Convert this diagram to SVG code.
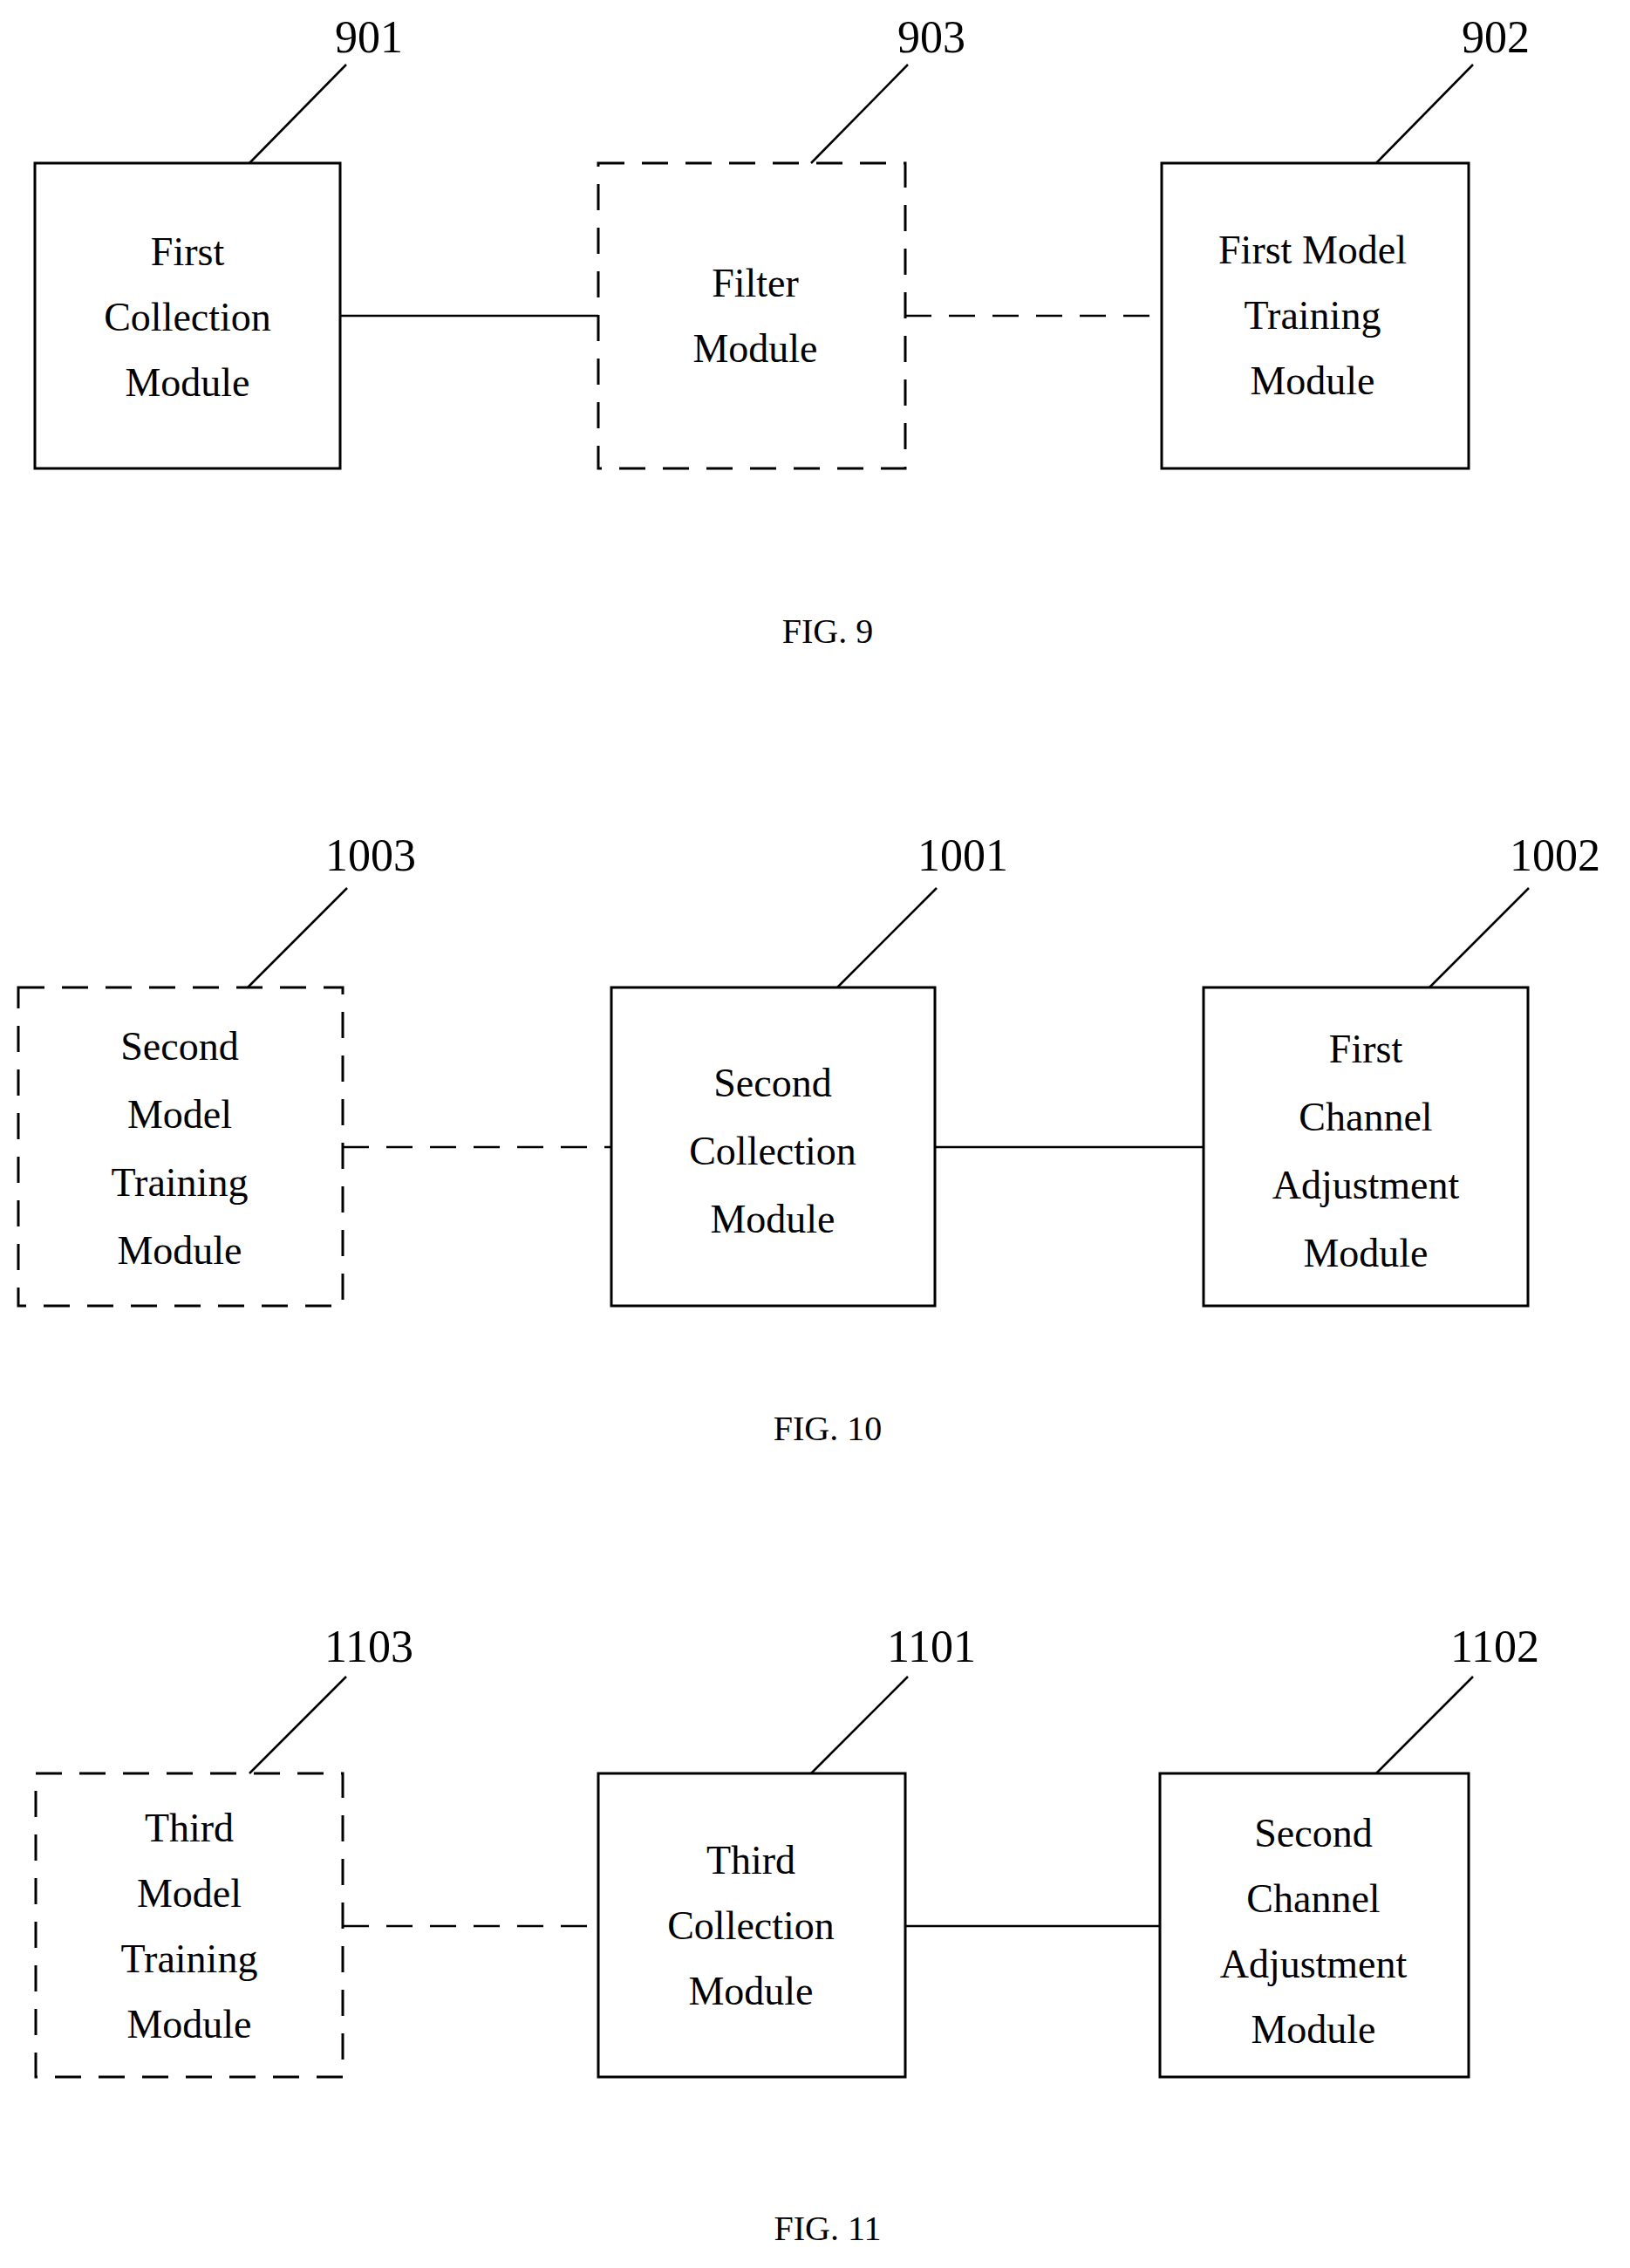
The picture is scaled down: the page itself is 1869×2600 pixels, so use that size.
<svg xmlns="http://www.w3.org/2000/svg" width="1869" height="2600" viewBox="0 0 1869 2600">
<style>
.b{fill:none;stroke:#000;stroke-width:3}
.d{fill:none;stroke:#000;stroke-width:3;stroke-dasharray:30 20}
.l{stroke:#000;stroke-width:2.5;fill:none}
.ld{stroke:#000;stroke-width:2.5;fill:none;stroke-dasharray:30 20}
text{font-family:"Liberation Serif","Times New Roman",serif;text-anchor:middle;fill:#000}
.t{font-size:46px}.n{font-size:52px}.f{font-size:40px}
</style>
<rect width="1869" height="2600" fill="#fff"/>
<g id="n901"><rect class="b" x="40" y="187" width="350" height="350"/><text class="t" x="215" y="304">First</text><text class="t" x="215" y="379">Collection</text><text class="t" x="215" y="454">Module</text><text class="n" x="423" y="60">901</text><line class="l" x1="286" y1="187" x2="397" y2="74"/></g>
<g id="n903"><rect class="d" x="686" y="187" width="352" height="350"/><text class="t" x="866" y="340">Filter</text><text class="t" x="866" y="415">Module</text><text class="n" x="1068" y="60">903</text><line class="l" x1="930" y1="187" x2="1041" y2="74"/></g>
<g id="n902"><rect class="b" x="1332" y="187" width="352" height="350"/><text class="t" x="1505" y="302">First Model</text><text class="t" x="1505" y="377">Training</text><text class="t" x="1505" y="452">Module</text><text class="n" x="1715" y="60">902</text><line class="l" x1="1578" y1="187" x2="1689" y2="74"/></g>
<text class="f" x="949" y="737">FIG. 9</text>
<g id="n1003"><rect class="d" x="21" y="1132" width="372" height="365"/><text class="t" x="206" y="1215">Second</text><text class="t" x="206" y="1293">Model</text><text class="t" x="206" y="1371">Training</text><text class="t" x="206" y="1449">Module</text><text class="n" x="425" y="998">1003</text><line class="l" x1="284" y1="1132" x2="398" y2="1018"/></g>
<g id="n1001"><rect class="b" x="701" y="1132" width="371" height="365"/><text class="t" x="886" y="1257">Second</text><text class="t" x="886" y="1335">Collection</text><text class="t" x="886" y="1413">Module</text><text class="n" x="1104" y="998">1001</text><line class="l" x1="960" y1="1132" x2="1074" y2="1018"/></g>
<g id="n1002"><rect class="b" x="1380" y="1132" width="372" height="365"/><text class="t" x="1566" y="1218">First</text><text class="t" x="1566" y="1296">Channel</text><text class="t" x="1566" y="1374">Adjustment</text><text class="t" x="1566" y="1452">Module</text><text class="n" x="1783" y="998">1002</text><line class="l" x1="1639" y1="1132" x2="1753" y2="1018"/></g>
<text class="f" x="949" y="1651">FIG. 10</text>
<g id="n1103"><rect class="d" x="41" y="2033" width="352" height="348"/><text class="t" x="217" y="2111">Third</text><text class="t" x="217" y="2186">Model</text><text class="t" x="217" y="2261">Training</text><text class="t" x="217" y="2336">Module</text><text class="n" x="423" y="1905">1103</text><line class="l" x1="286" y1="2033" x2="397" y2="1922"/></g>
<g id="n1101"><rect class="b" x="686" y="2033" width="352" height="348"/><text class="t" x="861" y="2148">Third</text><text class="t" x="861" y="2223">Collection</text><text class="t" x="861" y="2298">Module</text><text class="n" x="1068" y="1905">1101</text><line class="l" x1="930" y1="2033" x2="1041" y2="1922"/></g>
<g id="n1102"><rect class="b" x="1330" y="2033" width="354" height="348"/><text class="t" x="1506" y="2117">Second</text><text class="t" x="1506" y="2192">Channel</text><text class="t" x="1506" y="2267">Adjustment</text><text class="t" x="1506" y="2342">Module</text><text class="n" x="1714" y="1905">1102</text><line class="l" x1="1578" y1="2033" x2="1689" y2="1922"/></g>
<text class="f" x="949" y="2568">FIG. 11</text>
<g id="connectors">
<line class="l" x1="390" y1="362" x2="686" y2="362"/>
<line class="ld" x1="1038" y1="362" x2="1332" y2="362"/>
<line class="ld" x1="393" y1="1315" x2="701" y2="1315"/>
<line class="l" x1="1072" y1="1315" x2="1380" y2="1315"/>
<line class="ld" x1="393" y1="2208" x2="686" y2="2208"/>
<line class="l" x1="1038" y1="2208" x2="1330" y2="2208"/>
</g>
</svg>
